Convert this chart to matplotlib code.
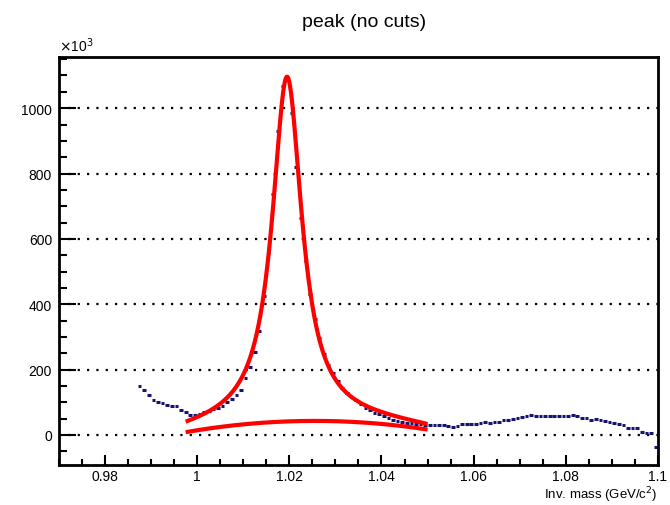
import numpy as np
import matplotlib
matplotlib.use("Agg")
import matplotlib.pyplot as plt
from matplotlib.ticker import MultipleLocator, FuncFormatter

plt.rcParams['font.family'] = ['Liberation Sans', 'DejaVu Sans']

# Histogram: bin centres (GeV/c^2) and contents (x10^3 entries), bin width 0.001
bin_lo = 0.9875
bin_width = 0.001
counts = [
    150, 137, 122, 106, 100, 99, 92, 90, 90, 75,
    69, 62, 61, 63, 69, 73, 79, 83, 90, 100,
    110, 122, 137, 173, 209, 253, 317, 424, 558, 736,
    929, 1067, 1088, 985, 820, 663, 532, 431, 354, 298,
    247, 215, 190, 166, 145, 128, 117, 106, 96, 84,
    75, 68, 64, 58, 52, 47, 44, 40, 38, 36,
    34, 33, 31, 30, 30, 29, 29, 27, 23, 28,
    33, 33, 33, 34, 37, 41, 37, 39, 41, 46,
    45, 48, 51, 55, 58, 61, 58, 58, 59, 59,
    59, 59, 59, 59, 60, 59, 53, 51, 47, 49,
    46, 42, 39, 37, 35, 31, 22, 21, 20, 9,
    7, 6, -38,
]
centres = bin_lo + bin_width * np.arange(len(counts))

# Fit result: Breit-Wigner peak + quadratic background (x10^3)
fit_range = (0.9975, 1.05)
bw_mass = 1.0195
bw_gamma = 0.0078
bw_amp = 1055.0
bg_top = 43.0
bg_x0 = 1.0255
bg_curv = 44000.0


def background(x):
    return bg_top - bg_curv * (x - bg_x0) ** 2


def total(x):
    half = bw_gamma / 2
    return bw_amp * half**2 / ((x - bw_mass) ** 2 + half**2) + background(x)


fig = plt.figure(figsize=(6.70, 5.06), dpi=100)
ax = fig.add_axes([0.088, 0.079, 0.894, 0.806])

xf = np.linspace(fit_range[0], fit_range[1], 400)
ax.plot(xf, total(xf), color='#ff0000', lw=3, zorder=3, solid_capstyle='butt')
ax.plot(xf, background(xf), color='#ff0000', lw=3, zorder=3, solid_capstyle='butt')

ax.hlines(counts, centres - 0.4 * bin_width, centres + 0.4 * bin_width,
          color='#151570', lw=2.2, zorder=2)

ax.set_xlim(0.97, 1.1)
ax.set_ylim(-92, 1156)

# dotted horizontal grid at the major y ticks
for yv in range(0, 1001, 200):
    ax.axhline(yv, color='black', lw=1.6, ls=(0, (1, 3.2)), zorder=1)

ax.xaxis.set_major_locator(MultipleLocator(0.02))
ax.xaxis.set_minor_locator(MultipleLocator(0.005))
ax.yaxis.set_major_locator(MultipleLocator(200))
ax.yaxis.set_minor_locator(MultipleLocator(50))
ax.xaxis.set_major_formatter(FuncFormatter(lambda v, p: f"{v:g}"))

ax.tick_params(axis='both', which='both', direction='in', width=1.5,
               labelsize=10, top=False, right=False)
ax.tick_params(axis='x', which='major', length=7.5, pad=3)
ax.tick_params(axis='x', which='minor', length=4)
ax.tick_params(axis='y', which='major', length=12, pad=5)
ax.tick_params(axis='y', which='minor', length=6)

for s in ax.spines.values():
    s.set_linewidth(2)

ax.text(0.0, 1.008, r"$\times$10$^{3}$", transform=ax.transAxes,
        ha='left', va='bottom', fontsize=10)
fig.text(0.543, 0.955, "peak (no cuts)", ha='center', va='center', fontsize=14)
fig.text(0.982, 0.002, r"Inv. mass (GeV/c$^{2}$)", ha='right', va='bottom',
         fontsize=9.5)

plt.savefig("out.png", dpi=100)
